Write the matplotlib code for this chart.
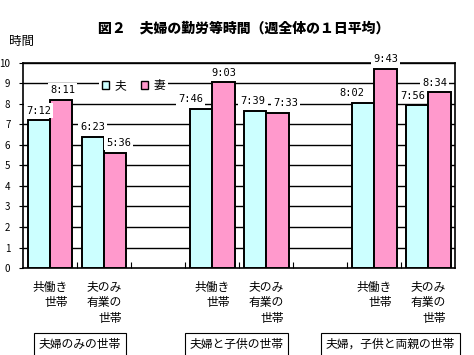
import matplotlib.pyplot as plt
import numpy as np
from matplotlib.patches import Patch

plt.rcParams['font.family'] = ['Noto Sans CJK JP', 'DejaVu Sans']

# categories (blank slots separate the three household groups)
categories = ['共働き\n世帯', '夫のみ\n有業の\n世帯', '',
              '共働き\n世帯', '夫のみ\n有業の\n世帯', '',
              '共働き\n世帯', '夫のみ\n有業の\n世帯']
groups = ['夫婦のみの世帯', '夫婦と子供の世帯', '夫婦，子供と両親の世帯']

# hours as h:mm strings, None for the spacer slots
husband_lbl = ['7:12', '6:23', None, '7:46', '7:39', None, '8:02', '7:56']
wife_lbl = ['8:11', '5:36', None, '9:03', '7:33', None, '9:43', '8:34']

# label nudges in pixels (Excel moved some labels sideways to avoid overlap)
husband_dx = [0, 0, 0, -10, -2, 0, -11, -4.5]
wife_dx = [1.5, 3.5, 0, 1, 8.5, 0, 0, -5]


def to_hours(s):
    if s is None:
        return np.nan
    h, m = s.split(':')
    return int(h) + int(m) / 60


husband = np.array([to_hours(s) for s in husband_lbl])
wife = np.array([to_hours(s) for s in wife_lbl])

fig = plt.figure(figsize=(4.74, 3.55), dpi=100)
ax = fig.add_axes([0.0485, 0.245, 0.912, 0.578])

x = np.arange(len(categories))
w = 0.415
c_h = '#CCFFFF'
c_w = '#FF99CC'

for yv in range(1, 11):
    ax.axhline(yv, color='black', lw=1.0, zorder=1)

ax.bar(x - w / 2, husband, w, color=c_h, edgecolor='black', lw=1.4, zorder=3)
ax.bar(x + w / 2, wife, w, color=c_w, edgecolor='black', lw=1.4, zorder=3)

for xs, vals, lbls, dxs in [(x - w / 2, husband, husband_lbl, husband_dx),
                            (x + w / 2, wife, wife_lbl, wife_dx)]:
    for xi, v, s, dx in zip(xs, vals, lbls, dxs):
        if s is None:
            continue
        ax.annotate(s, (xi, v), xytext=(dx * 0.72, 7), textcoords='offset points',
                    ha='center', va='center', fontsize=7.5, family='DejaVu Sans Mono',
                    zorder=4, bbox=dict(facecolor='white', edgecolor='none', pad=1.5))

ax.set_xlim(-0.5, len(categories) - 0.5)
ax.set_ylim(0, 10)
ax.set_yticks(range(0, 11))
ax.tick_params(axis='y', labelsize=7, length=3, direction='out', pad=6)
ax.set_xticks(np.arange(0.5, len(categories) - 0.5))
ax.set_xticklabels([])
ax.tick_params(axis='x', direction='in', length=4)
for sp in ax.spines.values():
    sp.set_linewidth(1.2)

for xi, lab in zip(x, categories):
    if lab:
        ax.text(xi, -0.62, lab, ha='center', va='top', fontsize=8.5,
                multialignment='right', linespacing=1.25)

group_x = [0.55, 3.45, 6.3]
for gx, g in zip(group_x, groups):
    ax.text(gx, -3.72, g, ha='center', va='center', fontsize=8.5,
            bbox=dict(facecolor='white', edgecolor='black', lw=0.8, pad=3.5))

leg = ax.legend([Patch(facecolor=c_h, edgecolor='black'), Patch(facecolor=c_w, edgecolor='black')],
                ['夫', '妻'], ncol=2, loc='center left', bbox_to_anchor=(0.163, 0.888),
                frameon=True, fontsize=8.5, handlelength=0.6, handleheight=0.6,
                handletextpad=0.4, columnspacing=1.3, borderpad=0.25, fancybox=False)
leg.get_frame().set_edgecolor('none')
leg.get_frame().set_facecolor('white')
leg.get_frame().set_alpha(1)
leg.set_zorder(5)

fig.text(0.515, 0.92, '図２　夫婦の勤労等時間（週全体の１日平均）', ha='center', va='center',
         fontsize=10, fontweight='heavy')
fig.text(0.02, 0.882, '時間', ha='left', va='center', fontsize=9)

fig.savefig('out.png', dpi=100)
